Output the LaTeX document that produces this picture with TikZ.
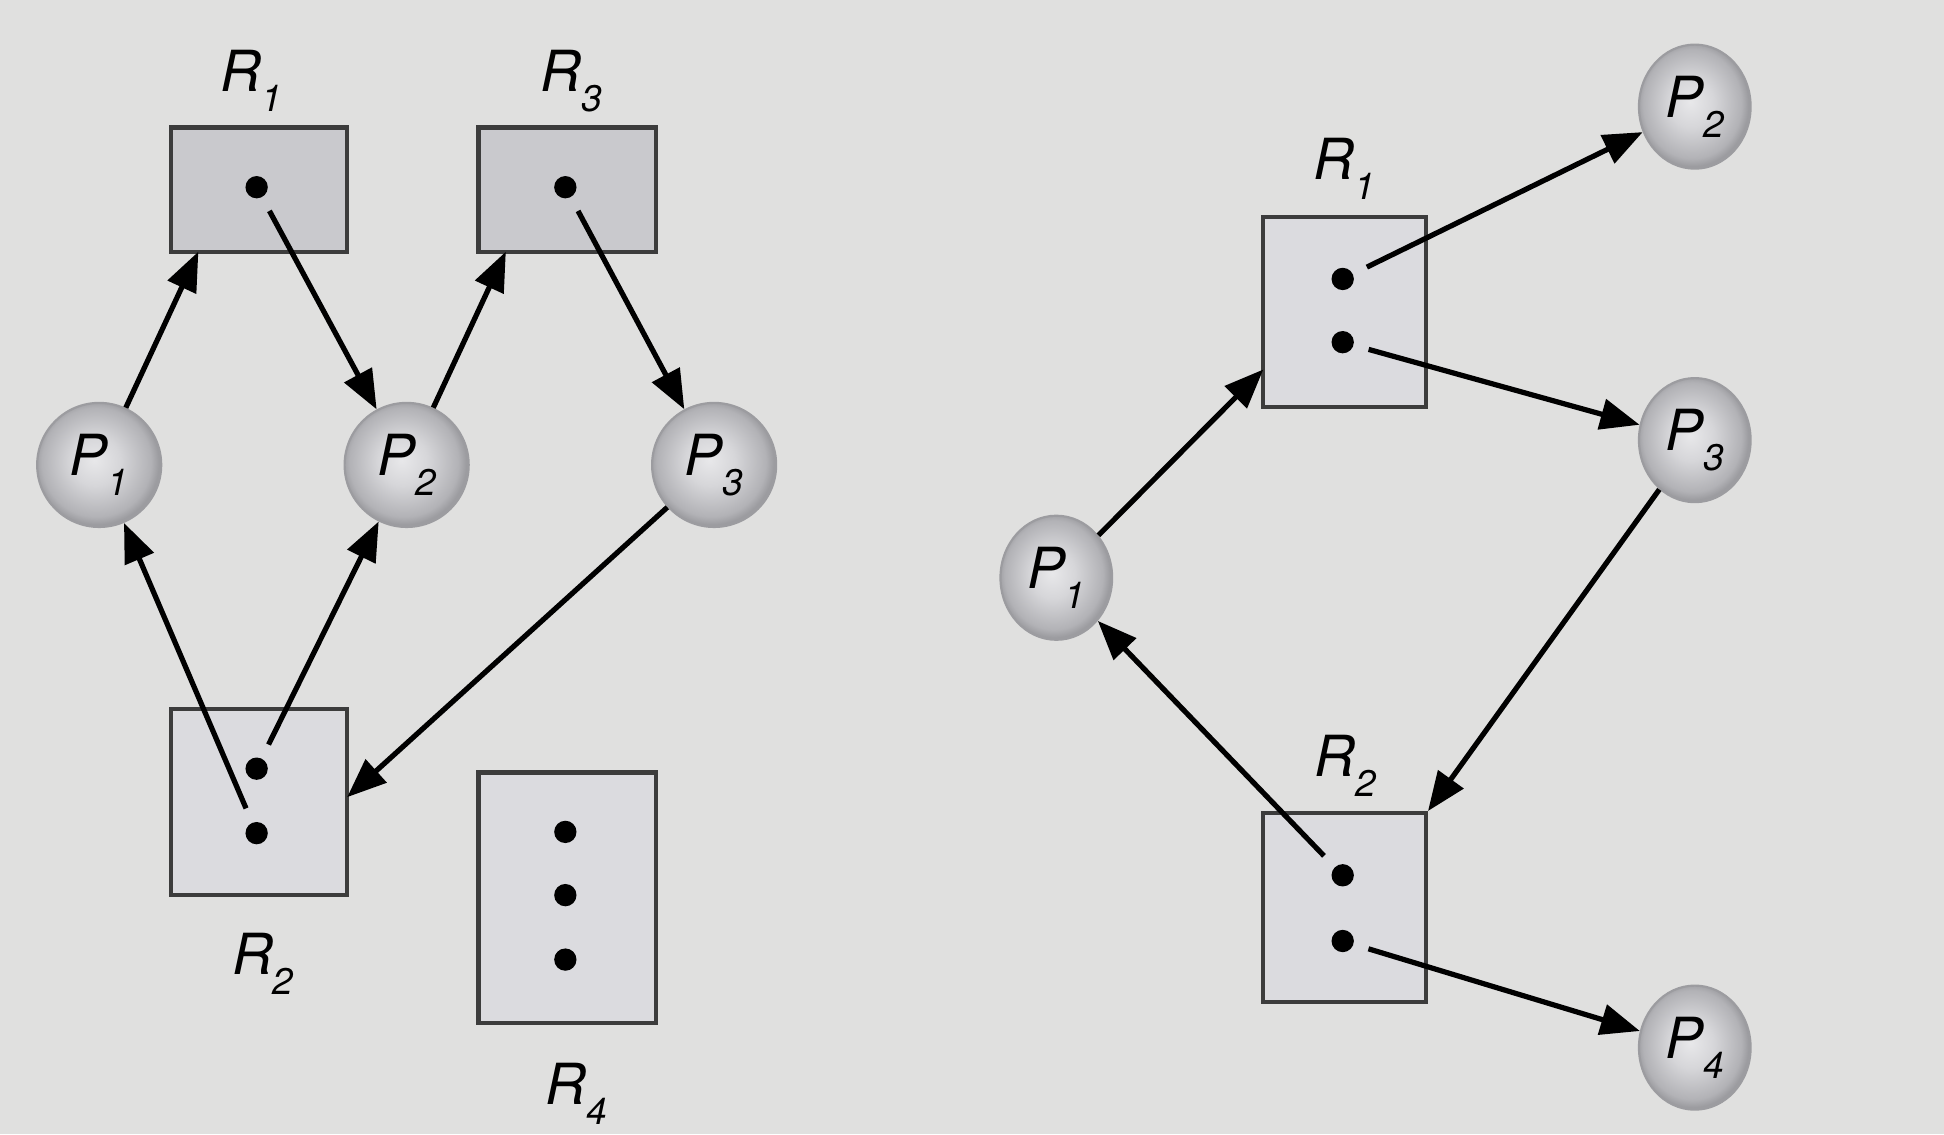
\documentclass[tikz,border=0pt]{standalone}
\usepackage{fontspec}
\setmainfont{TeX Gyre Heros}
\usetikzlibrary{arrows.meta,shapes.geometric}
\definecolor{bg}{HTML}{E0E0DF}
\definecolor{boxdark}{HTML}{C9C9CD}
\definecolor{boxlight}{HTML}{DBDBDF}
\definecolor{edge}{HTML}{3C3C3C}
\definecolor{ballin}{HTML}{E8E8EA}
\definecolor{ballmid}{HTML}{D6D6D9}
\definecolor{ballout}{HTML}{B2B2B6}
\definecolor{ballrim}{HTML}{9C9CA0}
\pgfdeclareradialshading{procshade}{\pgfpoint{-2bp}{2bp}}{color(0bp)=(ballin); color(10bp)=(ballmid); color(22bp)=(ballout); color(25bp)=(ballrim); color(50bp)=(ballrim)}
\newcommand\sublbl[2]{{\fontsize{13pt}{13pt}\selectfont\itshape #1}\raisebox{-4.6pt}{\fontsize{8.5pt}{8.5pt}\selectfont\itshape #2}}
\tikzset{
  resbox/.style={draw=edge, line width=1pt, inner sep=0pt},
  proc/.style={circle, shading=procshade, draw=ballrim, line width=0.5pt, minimum size=1cm, inner sep=0pt},
  rproc/.style={ellipse, shading=procshade, draw=ballrim, line width=0.5pt, minimum width=0.9cm, minimum height=1cm, inner sep=0pt},
  dot/.style={circle, fill=black, minimum size=0.18cm, inner sep=0pt},
  lab/.style={anchor=base, inner sep=0pt},
  arr/.style={line width=1.2pt, -{Triangle[length=9pt,width=7pt]}},
  fromdot/.style={arr, shorten <=0.12cm}
}
\begin{document}
\begin{tikzpicture}[x=0.01cm,y=-0.01cm]
\path[use as bounding box, fill=bg] (0,0) rectangle (1568,915);

% ---------- left graph ----------
\node[resbox, fill=boxdark, minimum width=1.42cm, minimum height=1.0cm] (R1) at (209,153) {};
\node[resbox, fill=boxdark, minimum width=1.43cm, minimum height=1.0cm] (R3) at (457.5,153) {};
\node[resbox, fill=boxlight, minimum width=1.42cm, minimum height=1.5cm] (R2) at (209,647) {};
\node[resbox, fill=boxlight, minimum width=1.43cm, minimum height=2.02cm] (R4) at (457.5,724) {};

\node[dot] (d1) at (207,151) {};
\node[dot] (d3) at (456,151) {};
\node[dot] (d21) at (207,620) {};
\node[dot] (d22) at (207,672) {};
\node[dot] (d41) at (456,671) {};
\node[dot] (d42) at (456,722) {};
\node[dot] (d43) at (456,774) {};

\node[lab] (lR1) at (203,74) {\sublbl{R}{1}};
\node[lab] (lR3) at (461,74) {\sublbl{R}{3}};
\node[lab] (lR2) at (212,786) {\sublbl{R}{2}};
\node[lab] (lR4) at (465,891) {\sublbl{R}{4}};

\node[proc] (P1) at (80,375) {\sublbl{P}{1}};
\node[proc] (P2) at (328,375) {\sublbl{P}{2}};
\node[proc] (P3) at (576,375) {\sublbl{P}{3}};

\coordinate (a1) at (160,203);
\coordinate (a2) at (408,203);
\coordinate (a3) at (280,643);
\draw[arr] (P1) -- (a1);
\draw[fromdot] (d1) -- (P2);
\draw[arr] (P2) -- (a2);
\draw[fromdot] (d3) -- (P3);
\draw[fromdot] (d22) -- (P1);
\draw[fromdot] (d21) -- (P2);
\draw[arr] (P3) -- (a3);

% ---------- right graph ----------
\node[resbox, fill=boxlight, minimum width=1.31cm, minimum height=1.53cm] (rR1) at (1084.5,251.5) {};
\node[resbox, fill=boxlight, minimum width=1.31cm, minimum height=1.52cm] (rR2) at (1084.5,732) {};

\node[dot] (rd11) at (1083,225) {};
\node[dot] (rd12) at (1083,276) {};
\node[dot] (rd21) at (1083,706) {};
\node[dot] (rd22) at (1083,759) {};

\node[lab] (lrR1) at (1084,145) {\sublbl{R}{1}};
\node[lab] (lrR2) at (1085,626) {\sublbl{R}{2}};

\node[rproc] (rP1) at (852,466) {\sublbl{P}{1}};
\node[rproc] (rP2) at (1367,86) {\sublbl{P}{2}};
\node[rproc] (rP3) at (1367,355) {\sublbl{P}{3}};
\node[rproc] (rP4) at (1367,845) {\sublbl{P}{4}};

\coordinate (b1) at (1019,298);
\draw[arr] (rP1) -- (b1);
\draw[fromdot] (rd11) -- (rP2);
\draw[fromdot] (rd12) -- (rP3);
\draw[arr] (rP3) -- (rR2.north east);
\draw[fromdot] (rd21) -- (rP1);
\draw[fromdot] (rd22) -- (rP4);
\end{tikzpicture}
\end{document}
